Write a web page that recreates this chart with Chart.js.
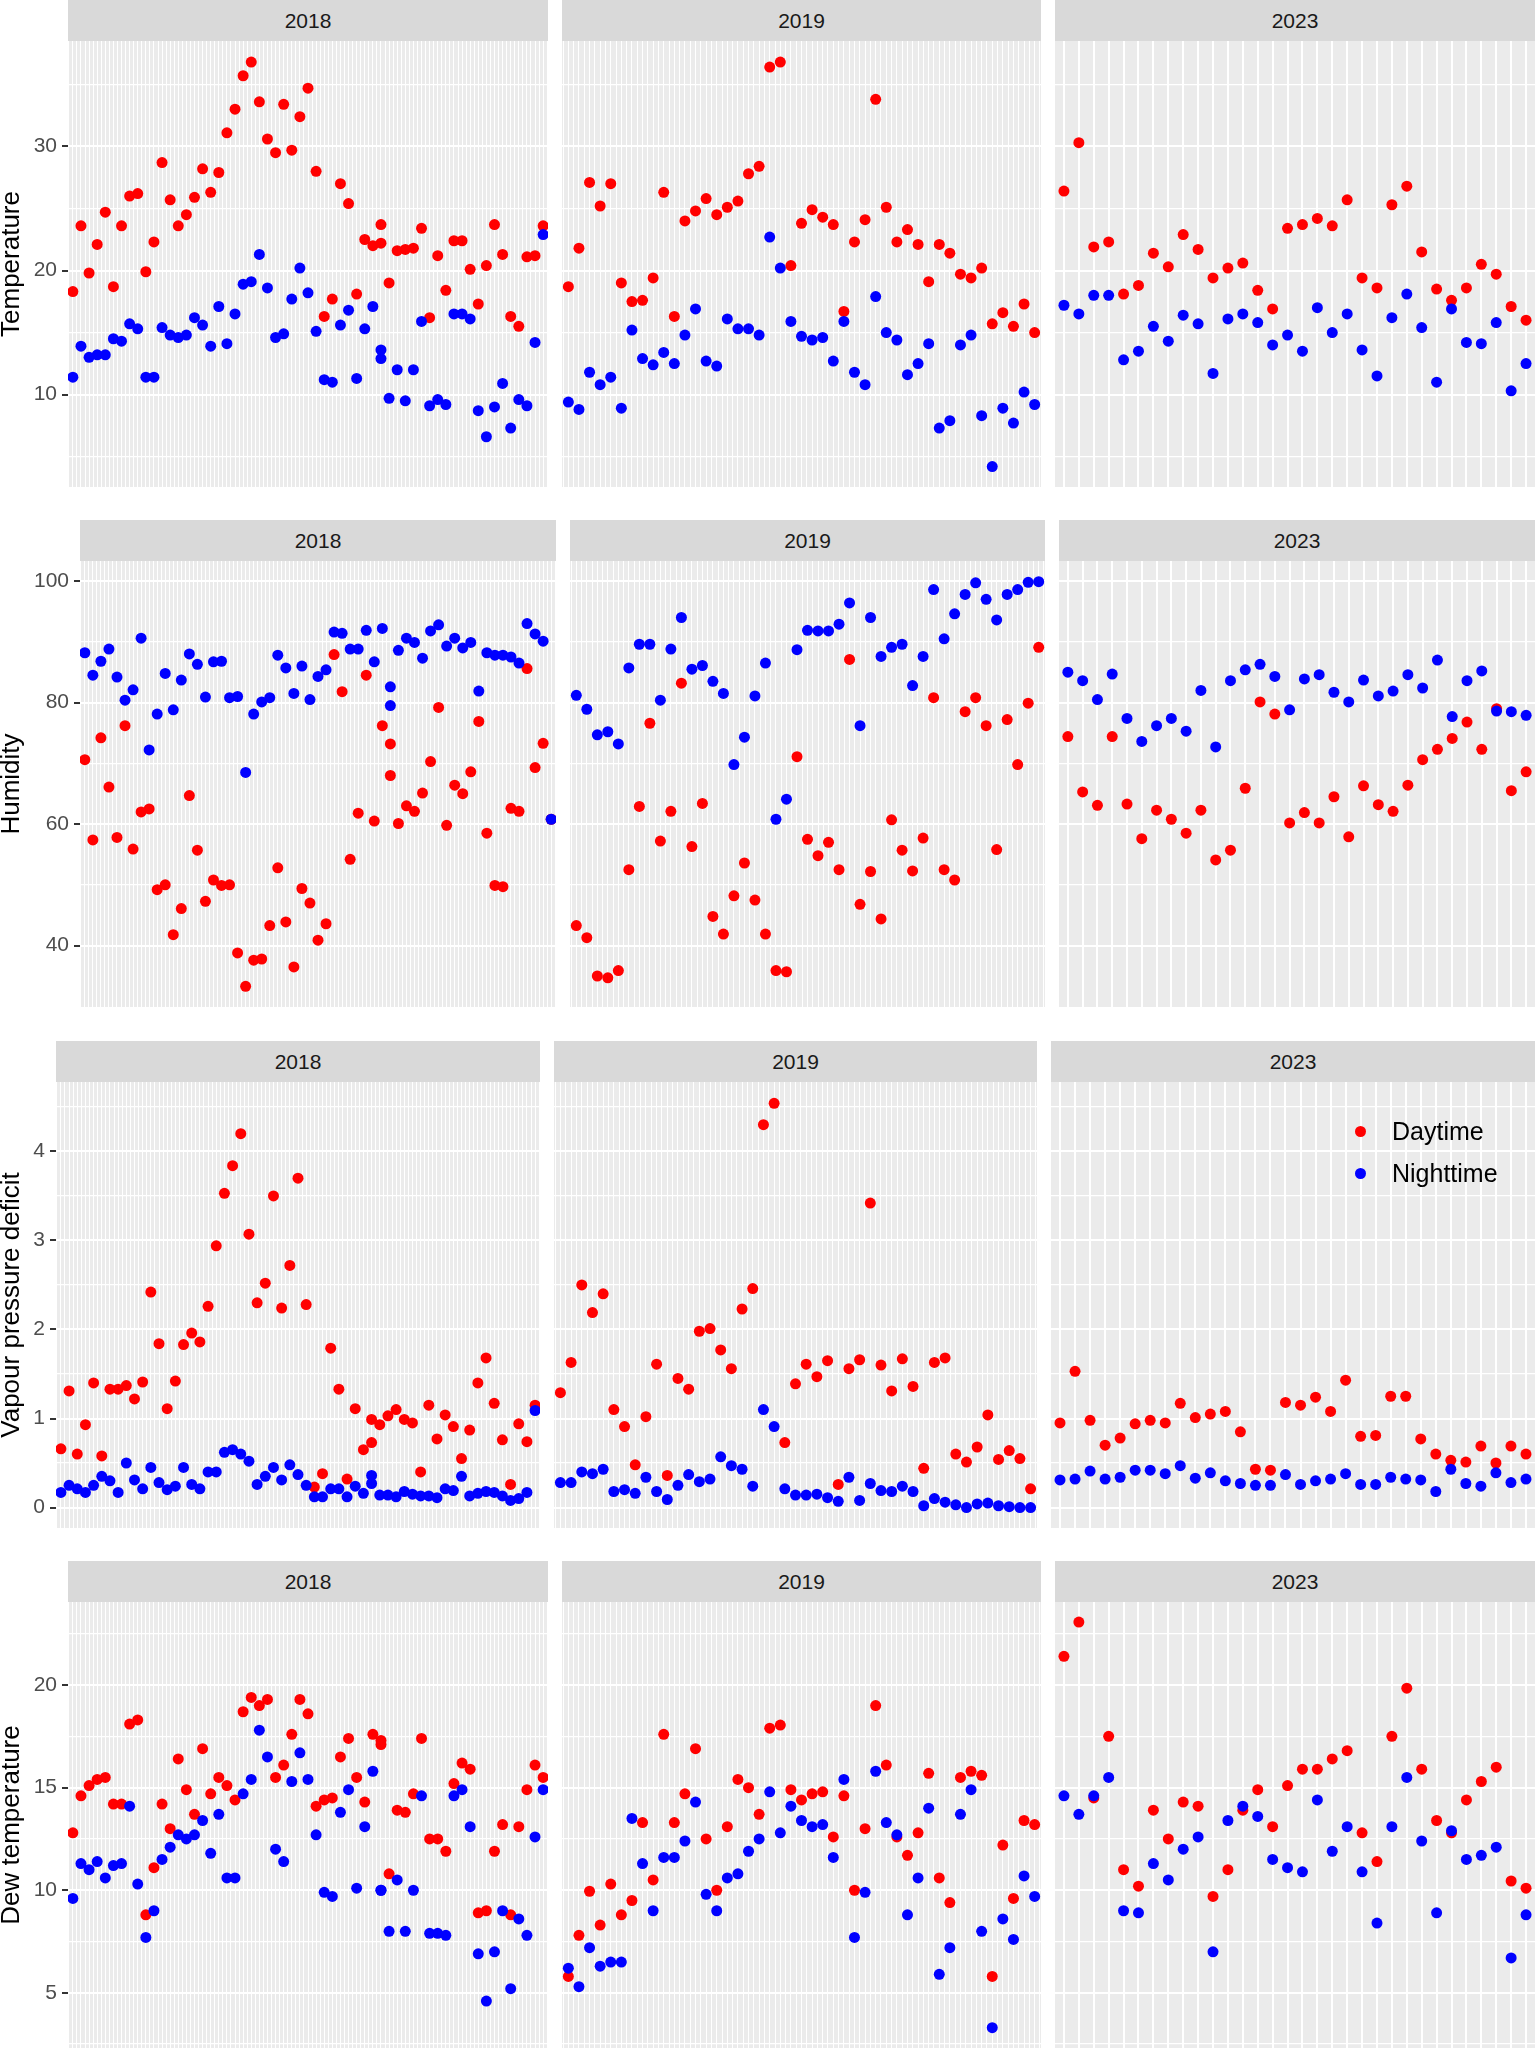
<!DOCTYPE html>
<html>
<head>
<meta charset="utf-8">
<script src="https://cdn.jsdelivr.net/npm/chart.js@4.4.1/dist/chart.umd.min.js"></script>
<style>
  html, body { margin: 0; padding: 0; background: #ffffff; }
  body { position: relative; width: 1535px; height: 2048px; overflow: hidden; font-family: "Liberation Sans", Arial, sans-serif; }
  canvas { position: absolute; }
  .strip { position: absolute; background: #d9d9d9; color: #1a1a1a; font-size: 21px; text-align: center; }
  .key-dot { position: absolute; width: 11px; height: 11px; border-radius: 50%; }
  .key-text { position: absolute; font-size: 25px; line-height: 25px; color: #000000; white-space: nowrap; }
</style>
</head>
<body>
<script>
Chart.defaults.font.family = "'Liberation Sans', Arial, sans-serif";

const years = ['2018', '2019', '2023'];

// x categories (2018 has one repeated day at position 38)
const pos2018 = [0,1,2,3,4,5,6,7,8,9,10,11,12,13,14,15,16,17,18,19,20,21,22,23,24,25,26,27,28,29,30,31,32,33,34,35,36,37,38,38,39,40,41,42,43,44,45,46,47,48,49,50,51,52,53,54,55,56,57,58];
const pos2019 = [0,1,2,3,4,5,6,7,8,9,10,11,12,13,14,15,16,17,18,19,20,21,22,23,24,25,26,27,28,29,30,31,32,33,34,35,36,37,38,39,40,41,42,43,44];
const pos2023 = [0,1,2,3,4,5,6,7,8,9,10,11,12,13,14,15,16,17,18,19,20,21,22,23,24,25,26,27,28,29,30,31];

// Temperature
const temp2018Day = [18.3,23.6,19.8,22.1,24.7,18.7,23.6,26.0,26.2,19.9,22.3,28.7,25.7,23.6,24.5,25.9,28.2,26.3,27.9,31.1,33.0,35.7,36.8,33.6,30.6,29.5,33.4,29.7,32.4,34.7,28.0,16.3,17.7,27.0,25.4,18.1,22.5,22.0,22.2,23.7,19.0,21.6,21.7,21.8,23.4,16.2,21.2,18.4,22.4,22.4,20.1,17.3,20.4,23.7,21.3,16.3,15.5,21.1,21.2,23.6];
const temp2018Night = [11.4,13.9,13.0,13.2,13.2,14.5,14.3,15.7,15.3,11.4,11.4,15.4,14.8,14.6,14.8,16.2,15.6,13.9,17.1,14.1,16.5,18.9,19.1,21.3,18.6,14.6,14.9,17.7,20.2,18.2,15.1,11.2,11.0,15.6,16.8,11.3,15.3,17.1,13.6,12.9,9.7,12.0,9.5,12.0,15.9,9.1,9.6,9.2,16.5,16.5,16.1,8.7,6.6,9.0,10.9,7.3,9.6,9.1,14.2,22.9];
const temp2019Day = [18.7,21.8,27.1,25.2,27.0,19.0,17.5,17.6,19.4,26.3,16.3,24.0,24.8,25.8,24.5,25.1,25.6,27.8,28.4,36.4,36.8,20.4,23.8,24.9,24.3,23.7,16.7,22.3,24.1,33.8,25.1,22.3,23.3,22.1,19.1,22.1,21.4,19.7,19.4,20.2,15.7,16.6,15.5,17.3,15.0];
const temp2019Night = [9.4,8.8,11.8,10.8,11.4,8.9,15.2,12.9,12.4,13.4,12.5,14.8,16.9,12.7,12.3,16.1,15.3,15.3,14.8,22.7,20.2,15.9,14.7,14.4,14.6,12.7,15.9,11.8,10.8,17.9,15.0,14.4,11.6,12.5,14.1,7.3,7.9,14.0,14.8,8.3,4.2,8.9,7.7,10.2,9.2];
const temp2023Day = [26.4,30.3,21.9,22.3,18.1,18.8,21.4,20.3,22.9,21.7,19.4,20.2,20.6,18.4,16.9,23.4,23.7,24.2,23.6,25.7,19.4,18.6,25.3,26.8,21.5,18.5,17.6,18.6,20.5,19.7,17.1,16.0];
const temp2023Night = [17.2,16.5,18.0,18.0,12.8,13.5,15.5,14.3,16.4,15.7,11.7,16.1,16.5,15.8,14.0,14.8,13.5,17.0,15.0,16.5,13.6,11.5,16.2,18.1,15.4,11.0,16.9,14.2,14.1,15.8,10.3,12.5];

// Humidity
const hum2018Day = [70.6,57.4,74.2,66.1,57.8,76.2,55.9,62.0,62.5,49.2,50.0,41.8,46.1,64.7,55.7,47.3,50.8,49.9,50.0,38.8,33.3,37.6,37.8,43.3,52.8,43.9,36.5,49.4,47.0,40.9,43.6,87.9,81.8,54.2,61.8,84.5,60.5,76.2,73.2,68.0,60.1,63.0,62.1,65.1,70.3,79.2,59.8,66.4,65.0,68.6,76.9,58.5,49.9,49.7,62.6,62.1,85.6,69.3,73.3,60.8];
const hum2018Night = [88.2,84.5,86.8,88.8,84.2,80.4,82.1,90.6,72.2,78.1,84.8,78.8,83.7,88.0,86.3,80.9,86.7,86.8,80.8,81.0,68.5,78.1,80.1,80.8,87.8,85.7,81.5,86.0,80.5,84.3,85.4,91.6,91.4,88.8,88.8,91.9,86.7,92.2,82.6,79.5,88.6,90.6,89.9,87.3,91.8,92.8,89.3,90.6,89.0,89.9,81.9,88.2,87.8,87.8,87.5,86.5,93.0,91.3,90.1,60.8];
const hum2019Day = [43.3,41.3,35.0,34.7,35.9,52.5,62.9,76.6,57.2,62.1,83.2,56.3,63.4,44.8,41.9,48.2,53.6,47.5,41.9,35.9,35.7,71.1,57.5,54.8,57.0,52.5,87.1,46.8,52.2,44.4,60.7,55.7,52.3,57.7,80.8,52.5,50.8,78.5,80.8,76.2,55.8,77.2,69.8,79.9,89.1];
const hum2019Night = [81.2,78.9,74.7,75.2,73.2,85.7,89.6,89.6,80.4,88.8,94.0,85.5,86.1,83.5,81.5,69.8,74.3,81.1,86.5,60.8,64.1,88.7,91.9,91.8,91.8,92.9,96.4,76.2,94.0,87.6,89.1,89.6,82.8,87.6,98.6,90.5,94.6,97.8,99.7,97.0,93.6,97.8,98.6,99.8,99.9];
const hum2023Day = [74.4,65.3,63.1,74.4,63.3,57.6,62.3,60.8,58.5,62.3,54.1,55.7,65.9,80.1,78.1,60.2,61.9,60.2,64.5,57.9,66.3,63.2,62.1,66.4,70.6,72.3,74.1,76.8,72.3,79.0,65.5,68.6];
const hum2023Night = [85.0,83.6,80.5,84.7,77.4,73.6,76.2,77.4,75.3,82.0,72.7,83.6,85.4,86.3,84.3,78.8,83.9,84.6,81.7,80.1,83.7,81.1,81.9,84.6,82.4,87.0,77.7,83.6,85.2,78.6,78.5,77.9];

// Vapour pressure deficit
const vpd2018Day = [0.66,1.31,0.60,0.93,1.40,0.58,1.33,1.33,1.37,1.22,1.41,2.42,1.84,1.11,1.42,1.83,1.96,1.86,2.26,2.94,3.53,3.84,4.20,3.07,2.30,2.52,3.50,2.24,2.72,3.70,2.28,0.23,0.38,1.79,1.33,0.32,1.11,0.65,0.99,0.73,0.93,1.03,1.10,0.99,0.95,0.40,1.15,0.77,1.04,0.91,0.55,0.87,1.40,1.68,1.17,0.76,0.26,0.94,0.74,1.15];
const vpd2018Night = [0.17,0.25,0.21,0.17,0.25,0.35,0.30,0.17,0.50,0.31,0.21,0.45,0.28,0.20,0.24,0.45,0.26,0.21,0.40,0.40,0.62,0.65,0.60,0.52,0.26,0.35,0.45,0.31,0.48,0.37,0.25,0.12,0.12,0.21,0.21,0.12,0.24,0.16,0.36,0.27,0.14,0.14,0.12,0.18,0.15,0.13,0.13,0.11,0.21,0.19,0.35,0.13,0.16,0.18,0.17,0.13,0.08,0.10,0.17,1.09];
const vpd2019Day = [1.29,1.63,2.50,2.19,2.40,1.10,0.91,0.48,1.02,1.61,0.36,1.45,1.33,1.98,2.01,1.77,1.56,2.23,2.46,4.30,4.54,0.73,1.39,1.61,1.47,1.65,0.26,1.56,1.66,3.42,1.60,1.31,1.67,1.36,0.44,1.63,1.68,0.60,0.51,0.68,1.04,0.54,0.64,0.55,0.21];
const vpd2019Night = [0.28,0.28,0.40,0.38,0.43,0.18,0.20,0.16,0.34,0.18,0.09,0.25,0.37,0.29,0.32,0.57,0.47,0.43,0.24,1.10,0.91,0.21,0.14,0.14,0.15,0.11,0.07,0.34,0.08,0.27,0.19,0.18,0.24,0.18,0.02,0.10,0.06,0.03,0.00,0.04,0.05,0.02,0.01,0.00,0.00];
const vpd2023Day = [0.95,1.53,0.98,0.70,0.78,0.94,0.98,0.95,1.17,1.01,1.05,1.08,0.85,0.43,0.42,1.18,1.15,1.24,1.08,1.43,0.80,0.81,1.25,1.25,0.77,0.60,0.53,0.51,0.69,0.50,0.69,0.60];
const vpd2023Night = [0.31,0.32,0.41,0.32,0.34,0.42,0.42,0.38,0.47,0.33,0.39,0.30,0.27,0.25,0.25,0.37,0.26,0.30,0.32,0.38,0.26,0.26,0.34,0.32,0.31,0.18,0.43,0.27,0.24,0.39,0.28,0.32];

// Dew temperature
const dew2018Day = [12.8,14.6,15.1,15.4,15.5,14.2,14.2,18.1,18.3,8.8,11.1,14.2,13.0,16.4,14.9,13.7,16.9,14.7,15.5,15.1,14.4,18.7,19.4,19.0,19.3,15.5,16.1,17.6,19.3,18.6,14.1,14.4,14.5,16.5,17.4,15.5,14.3,17.6,17.3,17.1,10.8,13.9,13.8,14.7,17.4,12.5,12.5,11.9,15.2,16.2,15.9,8.9,9.0,11.9,13.2,8.8,13.1,14.9,16.1,15.5];
const dew2018Night = [9.6,11.3,11.0,11.4,10.6,11.2,11.3,14.1,10.3,7.7,9.0,11.5,12.1,12.7,12.5,12.7,13.4,11.8,13.7,10.6,10.6,14.7,15.4,17.8,16.5,12.0,11.4,15.3,16.7,15.4,12.7,9.9,9.7,13.8,14.9,10.1,13.1,15.8,10.0,10.0,8.0,10.5,8.0,10.0,14.6,7.9,7.9,7.8,14.6,14.9,13.1,6.9,4.6,7.0,9.0,5.2,8.6,7.8,12.6,14.9];
const dew2019Day = [5.8,7.8,9.95,8.3,10.3,8.8,9.5,13.3,10.5,17.6,13.3,14.7,16.9,12.5,10.0,13.1,15.4,15.0,13.7,17.9,18.05,14.9,14.4,14.7,14.8,12.6,14.6,10.0,13.0,19.0,16.1,12.6,11.7,12.8,15.7,10.6,9.4,15.5,15.8,15.6,5.8,12.2,9.6,13.4,13.2];
const dew2019Night = [6.2,5.3,7.2,6.3,6.5,6.5,13.5,11.3,9.0,11.6,11.6,12.4,14.3,9.8,9.0,10.6,10.8,11.9,12.5,14.8,12.8,14.1,13.4,13.1,13.2,11.6,15.4,7.7,9.9,15.8,13.3,12.7,8.8,10.6,14.0,5.9,7.2,13.7,14.9,8.0,3.3,8.6,7.6,10.7,9.7];
const dew2023Day = [21.4,23.07,14.5,17.5,11.0,10.2,13.9,12.5,14.3,14.1,9.7,11.0,13.9,14.9,13.1,15.1,15.9,15.9,16.4,16.8,12.8,11.4,17.5,19.85,15.9,13.4,12.8,14.4,15.3,16.0,10.45,10.1];
const dew2023Night = [14.6,13.7,14.6,15.5,9.0,8.9,11.3,10.5,12.0,12.6,7.0,13.4,14.1,13.6,11.5,11.1,10.9,14.4,11.9,13.1,10.9,8.4,13.1,15.5,12.4,8.9,12.9,11.5,11.7,12.1,6.7,8.8];

const positions = [pos2018, pos2019, pos2023];

const rows = [
  { title: 'Temperature', left: 68, min: 2.55, max: 38.5, major: [10, 20, 30], minor: [5, 15, 25, 35],
    day: [temp2018Day, temp2019Day, temp2023Day], night: [temp2018Night, temp2019Night, temp2023Night] },
  { title: 'Humidity', left: 80, min: 29.9, max: 103.3, major: [40, 60, 80, 100], minor: [50, 70, 90],
    day: [hum2018Day, hum2019Day, hum2023Day], night: [hum2018Night, hum2019Night, hum2023Night] },
  { title: 'Vapour pressure deficit', left: 56, min: -0.23, max: 4.78, major: [0, 1, 2, 3, 4], minor: [0.5, 1.5, 2.5, 3.5, 4.5],
    day: [vpd2018Day, vpd2019Day, vpd2023Day], night: [vpd2018Night, vpd2019Night, vpd2023Night] },
  { title: 'Dew temperature', left: 68, min: 2.31, max: 24.05, major: [5, 10, 15, 20], minor: [2.5, 7.5, 12.5, 17.5, 22.5],
    day: [dew2018Day, dew2019Day, dew2023Day], night: [dew2018Night, dew2019Night, dew2023Night] }
];

const STRIP_H = 41;
const PANEL_H = 446;
const GAP = 14;
const RIGHT = 1535;
const rowTop = [0, 520, 1041, 1561];

// grey panel behind the grid
const panelBg = {
  id: 'panelBg',
  beforeDraw(chart) {
    const { ctx, chartArea: a } = chart;
    ctx.save();
    ctx.fillStyle = '#ebebeb';
    ctx.fillRect(a.left, a.top, a.right - a.left, a.bottom - a.top);
    ctx.restore();
  }
};

function xGridValues(n, halves) {
  const vals = [];
  if (halves) {
    for (let i = -1; i <= 2 * n - 1; i++) vals.push(i / 2);
  } else {
    for (let i = 0; i < n; i++) vals.push(i);
  }
  return vals;
}

function makePanel(row, r, k) {
  const w = (RIGHT - row.left - 2 * GAP) / 3;
  const x0 = Math.round(row.left + k * (w + GAP));
  const x1 = Math.round(row.left + k * (w + GAP) + w);

  const strip = document.createElement('div');
  strip.className = 'strip';
  strip.textContent = years[k];
  strip.style.left = x0 + 'px';
  strip.style.top = rowTop[r] + 'px';
  strip.style.width = (x1 - x0) + 'px';
  strip.style.height = STRIP_H + 'px';
  strip.style.lineHeight = STRIP_H + 'px';
  document.body.appendChild(strip);

  const canvasLeft = k === 0 ? 0 : x0;
  const axisW = k === 0 ? x0 : 0;
  const cv = document.createElement('canvas');
  cv.width = x1 - canvasLeft;
  cv.height = PANEL_H;
  cv.style.left = canvasLeft + 'px';
  cv.style.top = (rowTop[r] + STRIP_H) + 'px';
  document.body.appendChild(cv);

  const pos = positions[k];
  const n = pos[pos.length - 1] + 1;
  const halves = k < 2;
  const xVals = xGridValues(n, halves);
  const yVals = row.minor.concat(row.major).sort((a, b) => a - b);
  const isMajor = v => row.major.includes(v);

  return new Chart(cv, {
    type: 'scatter',
    data: {
      datasets: [
        {
          label: 'Daytime',
          data: pos.map((x, i) => ({ x: x, y: row.day[k][i] })),
          backgroundColor: '#ff0000',
          order: 1
        },
        {
          label: 'Nighttime',
          data: pos.map((x, i) => ({ x: x, y: row.night[k][i] })),
          backgroundColor: '#0000ff',
          order: 0
        }
      ]
    },
    options: {
      responsive: false,
      animation: false,
      events: [],
      layout: { padding: 0, autoPadding: false },
      elements: { point: { radius: 5.5, hoverRadius: 5.5, borderWidth: 0 } },
      plugins: { legend: { display: false }, tooltip: { enabled: false } },
      scales: {
        x: {
          type: 'linear',
          min: -0.6,
          max: n - 0.4,
          border: { display: false },
          ticks: { display: false },
          grid: {
            color: '#ffffff',
            drawTicks: false,
            lineWidth: halves ? 1.0 : 2
          },
          afterBuildTicks: s => { s.ticks = xVals.map(v => ({ value: v })); },
          afterFit: s => {
            s.height = 0;
            s.paddingLeft = 0;
            s.paddingRight = 0;
          }
        },
        y: {
          type: 'linear',
          min: row.min,
          max: row.max,
          border: { display: false },
          ticks: {
            display: k === 0,
            autoSkip: false,
            color: '#4d4d4d',
            padding: 5,
            font: { size: 21 },
            callback: v => isMajor(v) ? String(v) : ''
          },
          grid: {
            color: '#ffffff',
            lineWidth: c => (c.tick && isMajor(c.tick.value)) ? 2 : 1.3,
            drawTicks: k === 0,
            tickLength: 6,
            tickWidth: 2,
            tickColor: c => (c.tick && isMajor(c.tick.value)) ? '#333333' : 'rgba(0,0,0,0)'
          },
          title: {
            display: k === 0,
            text: row.title,
            color: '#000000',
            padding: { top: 0, bottom: 0 },
            font: { size: 26, lineHeight: 0.88 }
          },
          afterBuildTicks: s => { s.ticks = yVals.map(v => ({ value: v })); },
          afterFit: s => {
            s.width = axisW;
            s.paddingTop = 0;
            s.paddingBottom = 0;
          }
        }
      }
    },
    plugins: [panelBg]
  });
}

rows.forEach((row, r) => {
  years.forEach((year, k) => makePanel(row, r, k));
});

// legend sits inside the 2023 vapour pressure panel
const keys = [
  { label: 'Daytime', color: '#ff0000', cy: 1131 },
  { label: 'Nighttime', color: '#0000ff', cy: 1173 }
];
keys.forEach(key => {
  const dot = document.createElement('div');
  dot.className = 'key-dot';
  dot.style.background = key.color;
  dot.style.left = (1360 - 5.5) + 'px';
  dot.style.top = (key.cy - 5.5) + 'px';
  document.body.appendChild(dot);

  const txt = document.createElement('div');
  txt.className = 'key-text';
  txt.textContent = key.label;
  txt.style.left = '1392px';
  txt.style.top = (key.cy + 9 - 21) + 'px';
  document.body.appendChild(txt);
});
</script>
</body>
</html>
